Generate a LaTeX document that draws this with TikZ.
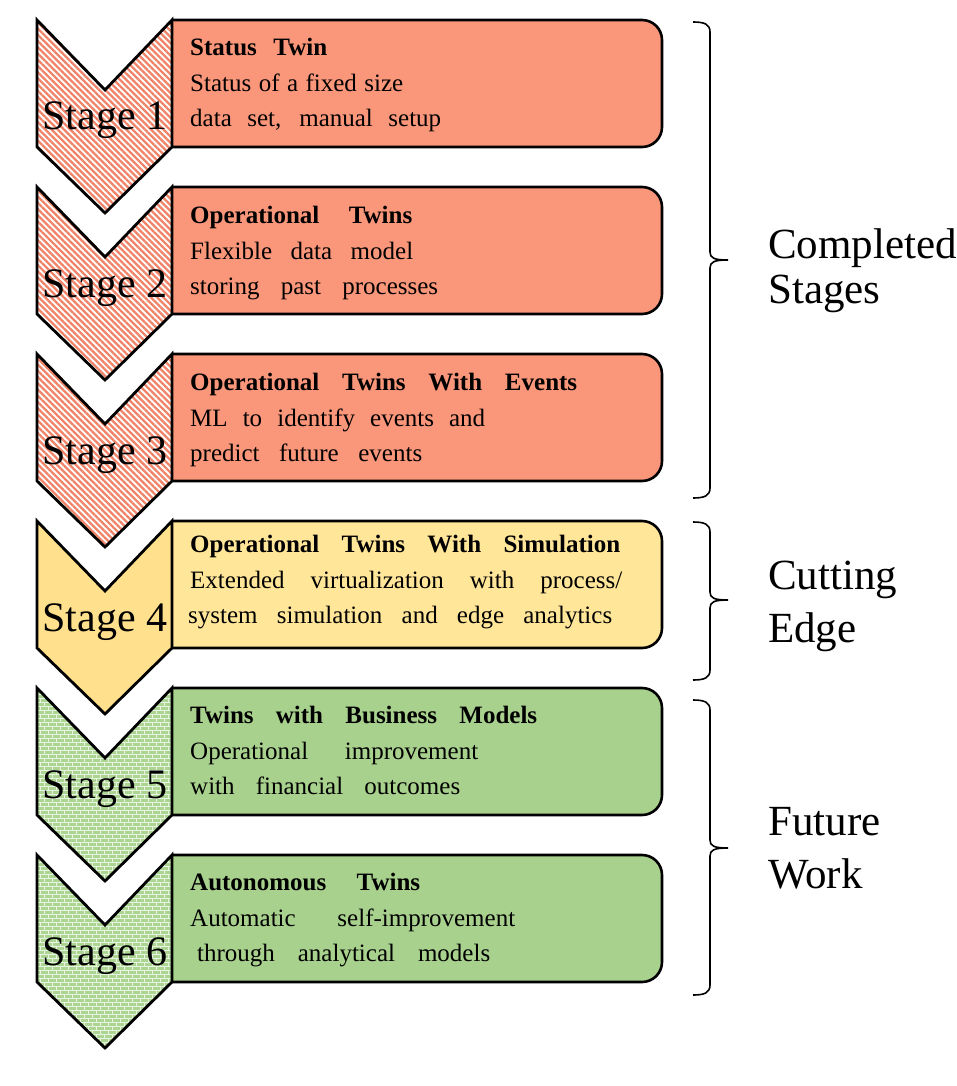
\documentclass[tikz,border=0pt]{standalone}
\usepackage{fontspec}
\setmainfont{Liberation Serif}
\usetikzlibrary{patterns,patterns.meta}
\definecolor{salmonbox}{RGB}{250,150,122}
\definecolor{salmonstripe}{RGB}{240,132,104}
\definecolor{yellowbox}{RGB}{255,230,153}
\definecolor{yellowchev}{RGB}{255,224,140}
\definecolor{greenbox}{RGB}{169,209,142}
\definecolor{greenchev}{RGB}{172,212,146}
\definecolor{brickline}{RGB}{232,244,224}
\tikzdeclarepattern{
  name=mybricks,
  type=uncolored,
  bottom left={(-1pt,-1pt)},
  top right={(9pt,9pt)},
  tile size={(8pt,8pt)},
  code={
    \draw[line width=0.8pt] (-1pt,0pt) -- (9pt,0pt) (-1pt,4pt) -- (9pt,4pt)
      (0pt,0pt) -- (0pt,4pt) (4pt,4pt) -- (4pt,8pt) (-1pt,8pt) -- (9pt,8pt);
  }
}
\tikzset{
  boxline/.style={draw=black, line width=2.6pt},
  chevline/.style={draw=black, line width=2.8pt, line join=miter},
  stripes/.style={preaction={fill=white}, pattern={Lines[angle=-45,distance=4.4pt,line width=2.3pt]}, pattern color=salmonstripe},
  solidy/.style={fill=yellowchev},
  bricks/.style={preaction={fill=greenchev}, pattern=mybricks, pattern color=brickline},
  stagetxt/.style={anchor=base, inner sep=0pt, font=\fontsize{42}{48}\selectfont},
  txt/.style={anchor=base west, inner sep=0pt, font=\fontsize{25}{30}\selectfont},
  ttl/.style={anchor=base west, inner sep=0pt, font=\fontsize{25}{30}\selectfont\bfseries},
  bigtxt/.style={anchor=base west, inner sep=0pt, font=\fontsize{43}{50}\selectfont},
  bracel/.style={draw=black, line width=1.6pt}
}
\newcommand\boxrow[2]{%
  \begin{scope}
    \clip (172,#1-5) rectangle (700,#1+135);
    \draw[boxline, fill=#2, rounded corners=20pt] (140,#1) rectangle (662,#1+127);
  \end{scope}
}
\newcommand\boxtext[9]{%
  \node[ttl] (t#1a) at (190,#2) {\makebox[#4pt][s]{#3}};
  \node[txt] (t#1b) at (190,#2+36) {\makebox[#6pt][s]{#5}};
  \node[txt] (t#1c) at (#9,#2+71) {\makebox[#8pt][s]{#7}};
}
\newcommand\chev[3]{%
  \path[chevline, #3] (37,#2) -- (105,#2+70) -- (172,#2) -- (172,#2+127) -- (105,#2+193) -- (37,#2+127) -- cycle;
  \node[stagetxt] (s#1) at (105,#2+110) {Stage #1};
}
\newcommand\mybrace[4]{% id, top, bottom, mid
  \draw[bracel] (693,#2) .. controls (704,#2) and (710,#2+2) .. (710,#2+10)
    -- (710,#4-8) .. controls (710,#4-2) and (714,#4) .. (728,#4)
    .. controls (714,#4) and (710,#4+2) .. (710,#4+8)
    -- (710,#3-10) .. controls (710,#3-2) and (704,#3) .. (693,#3);
  \coordinate (b#1) at (728,#4);
}
\begin{document}
\begin{tikzpicture}[x=1pt,y=-1pt]
\useasboundingbox (0,0) rectangle (956,1086);
% boxes
\boxrow{20}{salmonbox}
\boxrow{187}{salmonbox}
\boxrow{354}{salmonbox}
\boxrow{521}{yellowbox}
\boxrow{688}{greenbox}
\boxrow{855}{greenbox}
% box texts
\boxtext{1}{56}{Status Twin}{137}{Status of a fixed size}{213}{data set, manual setup}{251}{190}
\boxtext{2}{223}{Operational Twins}{222}{Flexible data model}{223}{storing past processes}{248}{190}
\boxtext{3}{390}{Operational Twins With Events}{387}{ML to identify events and}{295}{predict future events}{232}{190}
\boxtext{4}{552}{Operational Twins With Simulation}{430}{Extended virtualization with process/}{432}{system simulation and edge analytics}{424}{188}
\boxtext{5}{723}{Twins with Business Models}{347}{Operational improvement}{288}{with financial outcomes}{270}{190}
\boxtext{6}{890}{Autonomous Twins}{230}{Automatic self-improvement}{325}{through analytical models}{293}{197}
% chevrons
\chev{1}{20}{stripes}
\chev{2}{187}{stripes}
\chev{3}{354}{stripes}
\chev{4}{521}{solidy}
\chev{5}{688}{bricks}
\chev{6}{855}{bricks}
% braces
\mybrace{1}{22}{498}{260}
\mybrace{2}{522}{680}{600}
\mybrace{3}{700}{995}{848}
\node[bigtxt] (c1) at (768,258) {Completed};
\node[bigtxt] (c2) at (768,303) {Stages};
\node[bigtxt] (e1) at (768,589) {Cutting};
\node[bigtxt] (e2) at (768,642) {Edge};
\node[bigtxt] (f1) at (768,835) {Future};
\node[bigtxt] (f2) at (768,888) {Work};
\end{tikzpicture}
\end{document}
